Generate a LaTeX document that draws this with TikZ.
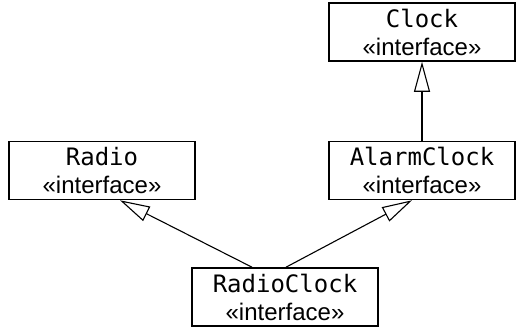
\documentclass[tikz,border=0pt]{standalone}
\usepackage{fontspec}
\setmainfont{Liberation Sans}
\setmonofont{DejaVu Sans Mono}
\usetikzlibrary{arrows.meta}
\tikzset{
	iface/.style = {draw, line width = 1.6pt, rectangle, minimum width = 186pt, minimum height = 58pt, align = center, font = \fontsize{24}{28}\selectfont, inner sep = 0pt},
	realize/.style = {line width = 1.1pt, -{Triangle[open, length = 30pt, width = 16pt, line width = 1.1pt]}}
}

\begin{document}
\begin{tikzpicture}[x = 1pt, y = 1pt]
	\useasboundingbox (0, 0) rectangle (518, -328);

	\node[iface] (clock) at (422, -32) {\texttt{Clock}\\«interface»};
	\node[iface] (alarmclock) at (422, -170.5) {\texttt{AlarmClock}\\«interface»};
	\node[iface] (radio) at (102, -170.5) {\texttt{Radio}\\«interface»};
	\node[iface] (radioclock) at (285, -297) {\texttt{RadioClock}\\«interface»};

	\draw[realize, line width = 1.6pt] (alarmclock.north) -- (clock.south);
	\draw[realize] ([xshift = -33pt]radioclock.north) -- ([xshift = 18pt]radio.south);
	\draw[realize] ([xshift = 1pt]radioclock.north) -- ([xshift = -10pt]alarmclock.south);
\end{tikzpicture}
\end{document}
